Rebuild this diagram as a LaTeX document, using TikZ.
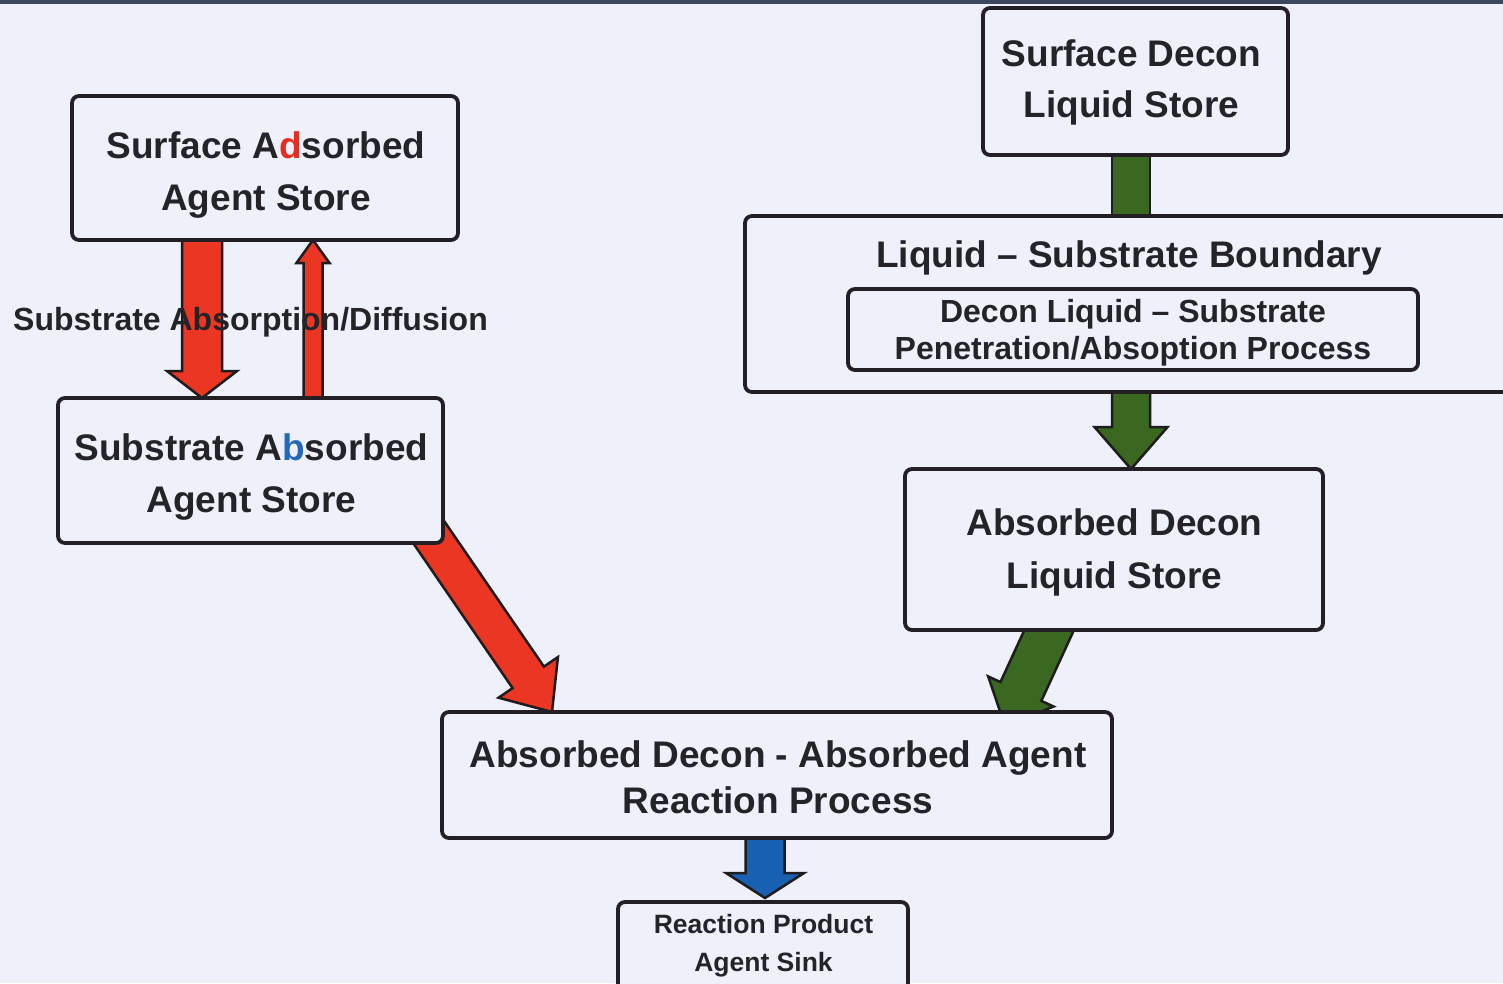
\documentclass[tikz,border=0pt]{standalone}
\usepackage{fontspec}
\setmainfont{Liberation Sans}
\usetikzlibrary{calc}
\definecolor{bgc}{RGB}{238,240,250}
\definecolor{topc}{RGB}{60,70,92}
\definecolor{boxline}{RGB}{35,31,36}
\definecolor{txt}{RGB}{36,36,40}
\definecolor{arrline}{RGB}{30,28,30}
\definecolor{redA}{RGB}{236,54,36}
\definecolor{greenA}{RGB}{58,104,32}
\definecolor{blueA}{RGB}{24,96,178}
\definecolor{adred}{RGB}{232,44,34}
\definecolor{abblue}{RGB}{36,104,186}
\pgfdeclarelayer{bg}
\pgfdeclarelayer{arr}
\pgfsetlayers{bg,arr,main}
% #1 start, #2 tip, #3 half shaft width, #4 half head width, #5 head length, #6 fill colour
\newcommand{\blockarrow}[6]{%
  \coordinate (bxS) at #1;
  \coordinate (bxT) at #2;
  \coordinate (bxH) at ($(bxT)!#5!(bxS)$);
  \draw[barrow,fill=#6] ($(bxS)!#3!90:(bxT)$) -- ($(bxH)!#3!90:(bxT)$) -- ($(bxH)!#4!90:(bxT)$) -- (bxT) -- ($(bxH)!#4!-90:(bxT)$) -- ($(bxH)!#3!-90:(bxT)$) -- ($(bxS)!#3!-90:(bxT)$) -- cycle;%
}
\begin{document}
\begin{tikzpicture}[x=1pt,y=-1pt,
  box/.style={draw=boxline,line width=3.8pt,rounded corners=7pt,fill=bgc,inner sep=0pt,outer sep=0pt},
  lbl/.style={anchor=base,inner sep=0pt,text=txt,font=\bfseries\fontsize{37}{44}\selectfont},
  lblsmall/.style={lbl,font=\bfseries\fontsize{32}{38}\selectfont},
  lbltiny/.style={lbl,font=\bfseries\fontsize{26.5}{32}\selectfont},
  barrow/.style={draw=arrline,line width=2.5pt,line join=miter}]
\path[use as bounding box] (0,0) rectangle (1503,983);
\clip (0,0) rectangle (1503,983);
\begin{pgfonlayer}{bg}
\fill[bgc] (0,0) rectangle (1503,983);
\end{pgfonlayer}
\fill[topc] (0,0) rectangle (1503,4);

% boxes
\node[box,minimum width=386pt,minimum height=144pt] (sads) at (265,168) {};
\node[box,minimum width=385pt,minimum height=145pt] (sabs) at (250.5,470.5) {};
\node[box,minimum width=305pt,minimum height=147pt] (sdec) at (1135.5,81.5) {};
\node[box,minimum width=785pt,minimum height=176pt] (bound) at (1137.5,304) {};
\node[box,minimum width=570pt,minimum height=81pt] (pen) at (1133,329.5) {};
\node[box,minimum width=418pt,minimum height=161pt] (adec) at (1114,549.5) {};
\node[box,minimum width=670pt,minimum height=126pt] (react) at (777,775) {};
\node[box,minimum width=290pt,minimum height=98pt] (sink) at (763,951) {};

% texts
\node[lbl] (sadsA) at (266,158) {Surface A\textcolor{adred}{d}sorbed};
\node[lbl] (sadsB) at (266,210) {Agent Store};
\node[lbl] (sabsA) at (251.5,460) {Substrate A\textcolor{abblue}{b}sorbed};
\node[lbl] (sabsB) at (251.5,512) {Agent Store};
\node[lbl] (sdecA) at (1131.5,66) {Surface Decon};
\node[lbl] (sdecB) at (1131.5,117) {Liquid Store};
\node[lbl] (boundT) at (1129,267) {Liquid -- Substrate Boundary};
\node[lblsmall] (penA) at (1133,322) {Decon Liquid -- Substrate};
\node[lblsmall] (penB) at (1133,359) {Penetration/Absoption Process};
\node[lbl] (adecA) at (1114.5,535) {Absorbed Decon};
\node[lbl] (adecB) at (1114.5,588) {Liquid Store};
\node[lbl] (reactA) at (778,767) {Absorbed Decon - Absorbed Agent};
\node[lbl] (reactB) at (778,813) {Reaction Process};
\node[lbltiny] (sinkA) at (763.5,933) {Reaction Product};
\node[lbltiny] (sinkB) at (763.5,971) {Agent Sink};

% connectors
\begin{pgfonlayer}{arr}
\blockarrow{($(sads.south)+(-63,-5)$)}{($(sabs.north)+(-48.5,0)$)}{20pt}{35pt}{27pt}{redA}
\blockarrow{($(sabs.north)+(62.5,5)$)}{($(sads.south)+(48,0)$)}{9.5pt}{16.5pt}{23pt}{redA}
\blockarrow{($(sabs.south east)+(-37,-44)$)}{($(react.north west)+(110,0)$)}{19pt}{36pt}{42pt}{redA}
\draw[barrow,fill=greenA] ($(sdec.south)+(-23.5,-5)$) rectangle ($(bound.north)+(12.5,5)$);
\blockarrow{($(bound.south)+(-6.5,-5)$)}{($(adec.north)+(17,0)$)}{19pt}{36.5pt}{42pt}{greenA}
\blockarrow{($(adec.south)+(-51,-30)$)}{($(react.north east)+(-107,14)$)}{22.5pt}{36pt}{38pt}{greenA}
\blockarrow{($(react.south)+(-12,-5)$)}{($(sink.north)+(2,-4)$)}{19.5pt}{39pt}{25pt}{blueA}
\end{pgfonlayer}

\node[lbl,font=\bfseries\fontsize{32}{38}\selectfont] (diff) at (250.5,330) {Substrate Absorption/Diffusion};
\end{tikzpicture}
\end{document}
